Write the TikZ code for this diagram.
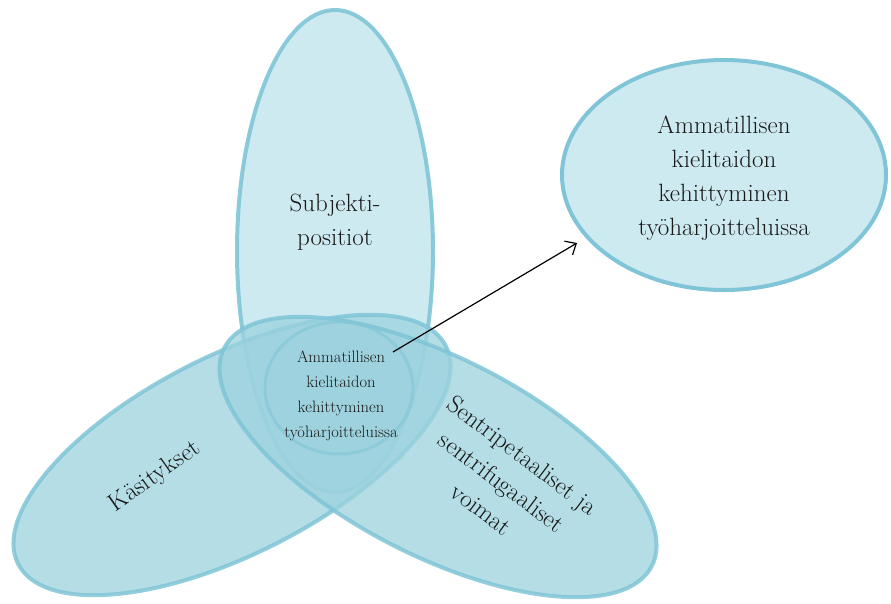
\documentclass[tikz,border=0pt]{standalone}
\usetikzlibrary{shapes.geometric,arrows.meta}
\definecolor{edgeblue}{RGB}{128,197,215}
\definecolor{fillpale}{RGB}{206,234,241}
\definecolor{fillmid}{RGB}{156,210,222}
\begin{document}
\begin{tikzpicture}[x=1pt,y=-1pt,
  blob/.style={ellipse, inner sep=0pt, draw=edgeblue, line width=4pt},
  bigtxt/.style={align=center, font=\fontsize{25}{34}\selectfont, text=black!90},
  smalltxt/.style={align=center, font=\fontsize{16.5}{25}\selectfont, text=black!90}]
\useasboundingbox (0,0) rectangle (891,603);
% vertical ellipse
\node[blob, fill=fillpale, draw opacity=0.9, minimum width=196pt, minimum height=482pt] (vert) at (335,251) {};
% left tilted ellipse
\node[blob, fill=fillmid, fill opacity=0.75, draw opacity=0.85, minimum width=480pt, minimum height=198pt, rotate=27] (kasi) at (232,455) {};
% right tilted ellipse
\node[blob, fill=fillmid, fill opacity=0.75, draw opacity=0.85, minimum width=480pt, minimum height=198pt, rotate=-27] (sent) at (438,457) {};
% inner circle
\node[ellipse, inner sep=0pt, draw=edgeblue, draw opacity=0.55, line width=3pt, fill=fillmid, fill opacity=0.2, minimum width=148pt, minimum height=132pt] (core) at (339,388) {};
% right ellipse
\node[blob, fill=fillpale, minimum width=324pt, minimum height=230pt] (goal) at (724,175) {};
% texts
\node[bigtxt] (subj) at (335,222) {Subjekti-\\positiot};
\node[bigtxt] (goaltxt) at (724,178) {Ammatillisen\\kielitaidon\\kehittyminen\\työharjoitteluissa};
\node[smalltxt] (coretxt) at (341,396) {Ammatillisen\\kielitaidon\\kehittyminen\\työharjoitteluissa};
\node[bigtxt, rotate=35] (kasitxt) at (155,477) {Käsitykset};
\node[bigtxt, rotate=-37] (senttxt) at (502,482) {Sentripetaaliset ja\\sentrifugaaliset\\voimat};
% arrow
\coordinate (as) at (393,352);
\coordinate (ae) at (577,243);
\draw[line width=1.2pt, -{Straight Barb[length=9pt,width=16pt]}] (as) -- (ae);
\end{tikzpicture}
\end{document}
